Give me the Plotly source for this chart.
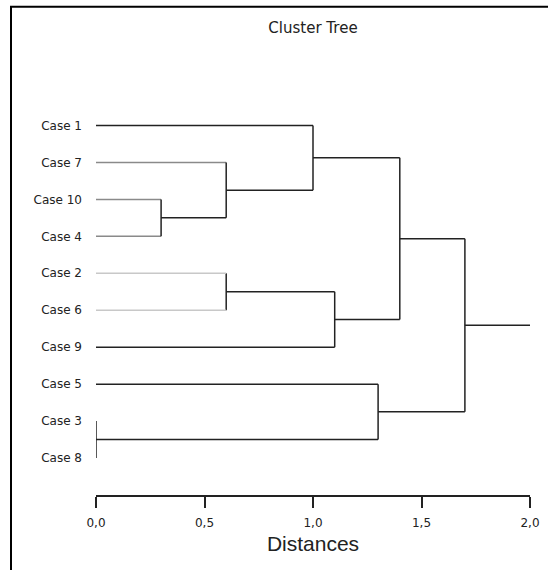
import plotly.graph_objects as go

# ---- data ----
leaves = ["Case 1", "Case 7", "Case 10", "Case 4", "Case 2",
          "Case 6", "Case 9", "Case 5", "Case 3", "Case 8"]
leaf_colors = ["#222222", "#8a8a8a", "#8a8a8a", "#8a8a8a", "#c8c8c8",
               "#c8c8c8", "#222222", "#222222", "#222222", "#222222"]
# merges: node ids 0..9 are leaves (in display order), 10.. are merged clusters
merge_a = [2, 1, 0, 4, 13, 12, 8, 7, 15]
merge_b = [3, 10, 11, 5, 6, 14, 9, 16, 17]
merge_h = [0.3, 0.6, 1.0, 0.6, 1.1, 1.4, 0.0, 1.3, 1.7]
root_tail = 2.0
tick_vals = [0, 0.5, 1.0, 1.5, 2.0]
tick_text = ["0,0", "0,5", "1,0", "1,5", "2,0"]

# ---- build segments ----
n = len(leaves)
pos = {i: float(i) for i in range(n)}
hgt = {i: 0.0 for i in range(n)}
segs = {}  # color -> (xs, ys)

def add(color, x0, x1, y0, y1):
    xs, ys = segs.setdefault(color, ([], []))
    xs += [x0, x1, None]
    ys += [y0, y1, None]

black = "#222222"
for k, (a, b, h) in enumerate(zip(merge_a, merge_b, merge_h)):
    node = n + k
    for c in (a, b):
        col = leaf_colors[c] if c < n else black
        if h > hgt[c]:
            add(col, hgt[c], h, pos[c], pos[c])
    add(black, h, h, pos[a], pos[b])
    pos[node] = (pos[a] + pos[b]) / 2
    hgt[node] = h
root = n + len(merge_h) - 1
add(black, hgt[root], root_tail, pos[root], pos[root])

fig = go.Figure()
for col, (xs, ys) in segs.items():
    fig.add_trace(go.Scatter(x=xs, y=ys, mode="lines",
                             line=dict(color=col, width=1.5),
                             cliponaxis=False, hoverinfo="skip",
                             showlegend=False))

L, R, T, B = 96, 18, 106.5, 75
W, H = 548, 570
pw, ph = W - L - R, H - T - B

fig.update_layout(
    width=W, height=H,
    margin=dict(l=L, r=R, t=T, b=B, autoexpand=False),
    paper_bgcolor="white", plot_bgcolor="white",
    font=dict(family="DejaVu Sans, sans-serif", color="#222222", size=12),
    title=dict(text="Cluster Tree", x=(L + pw / 2) / W, xanchor="center",
               y=1 - 28 / H, yanchor="middle", font=dict(size=15)),
    xaxis=dict(range=[0, 2], tickvals=tick_vals, ticktext=tick_text,
               showline=True, linecolor="#222222", linewidth=1.5,
               ticks="outside", ticklen=11, tickwidth=1.5, tickcolor="#222222",
               showgrid=False, zeroline=False, automargin=False,
               ticklabelstandoff=5, tickfont=dict(size=12),
               title=dict(text="Distances", standoff=7,
                          font=dict(size=21, family="Liberation Sans, Arial, sans-serif"))),
    yaxis=dict(range=[10, -0.5], tickvals=list(range(n)), ticktext=leaves,
               showline=False, ticks="", showgrid=False, zeroline=False,
               automargin=False, ticklabelstandoff=13, tickfont=dict(size=12)),
)

fig.add_shape(type="rect", xref="paper", yref="paper",
              x0=(11 - L) / pw, x1=(W + 12 - L) / pw,
              y0=(H - B - (H + 12)) / ph, y1=(H - B - 6) / ph,
              line=dict(color="black", width=2), fillcolor="rgba(0,0,0,0)")

fig.write_html("out.html", config={"displayModeBar": False},
               post_script="document.body.style.margin='0';"
                           "document.body.style.overflow='hidden';")
